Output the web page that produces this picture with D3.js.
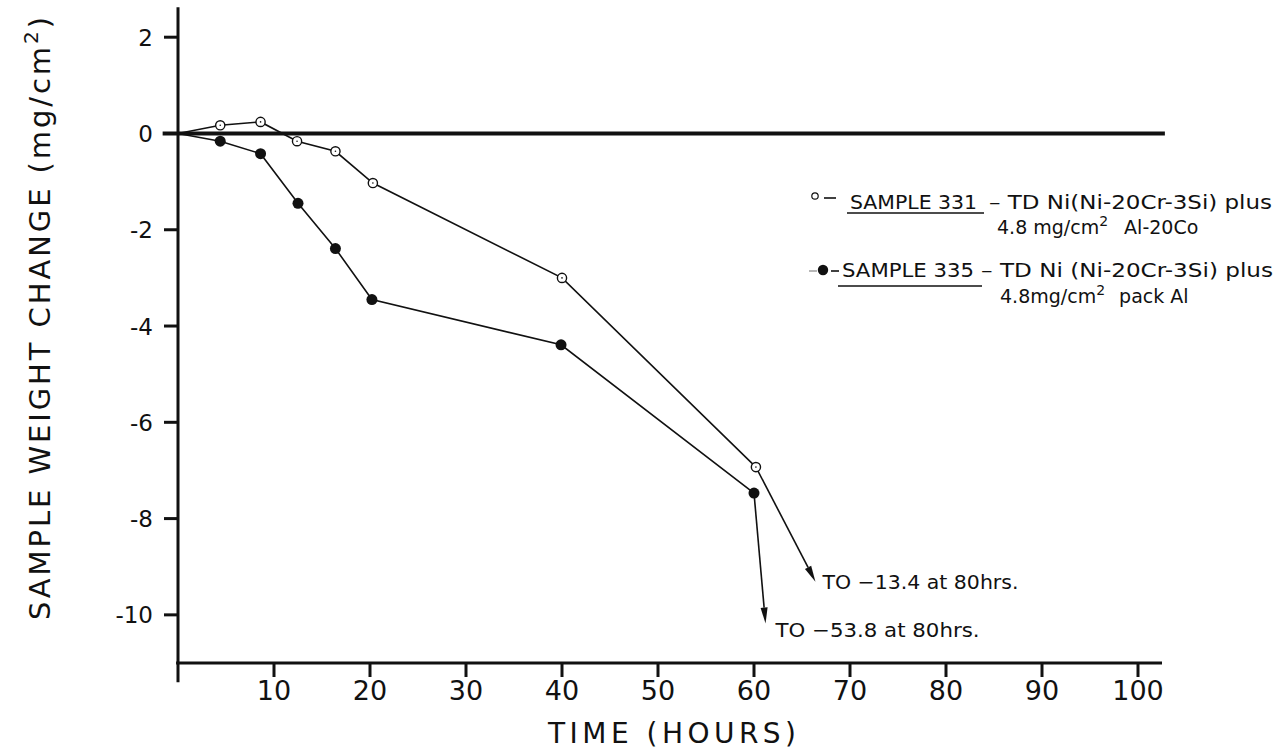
<!DOCTYPE html>
<html>
<head>
<meta charset="utf-8">
<script src="https://cdn.jsdelivr.net/npm/d3@7"></script>
<style>
  html, body { margin: 0; padding: 0; background: #fff; }
  svg { display: block; }
  text { font-family: "DejaVu Sans", "Liberation Sans", sans-serif; fill: #111; }
</style>
</head>
<body>
<svg id="chart" width="1278" height="752"></svg>
<script>
// ---- data ----
const hours331  = [0, 4.4, 8.6, 12.4, 16.4, 20.3, 40.0, 60.2];
const weight331 = [0, 0.17, 0.24, -0.16, -0.37, -1.03, -3.00, -6.93];
const hours335  = [0, 4.4, 8.6, 12.5, 16.4, 20.2, 39.9, 60.0];
const weight335 = [0, -0.16, -0.42, -1.45, -2.39, -3.45, -4.39, -7.47];
// arrows continuing off the chart (hours, weight change at arrow tip)
const arrowTip331 = [66.4, -9.31];
const arrowTip335 = [61.2, -10.18];
const arrowLabels = ["TO \u221213.4 at 80hrs.", "TO \u221253.8 at 80hrs."];
const xTicks = [10, 20, 30, 40, 50, 60, 70, 80, 90, 100];
const yTicks = [-10, -8, -6, -4, -2, 0, 2];

const svg = d3.select("#chart");
const x = d3.scaleLinear().domain([0, 100]).range([178, 1138]);
const y = d3.scaleLinear().domain([-11, 2]).range([663, 37.2]);
const ink = "#111";

// ---- axes ----
svg.append("line").attr("x1", x(0)).attr("x2", x(0))
  .attr("y1", y(2.62)).attr("y2", y(-11.4))
  .attr("stroke", ink).attr("stroke-width", 3);
svg.append("line").attr("x1", x(-0.2)).attr("x2", x(102.5))
  .attr("y1", y(-11)).attr("y2", y(-11))
  .attr("stroke", ink).attr("stroke-width", 3);
// heavy zero line
svg.append("line").attr("x1", x(-1.6)).attr("x2", x(102.8))
  .attr("y1", y(0)).attr("y2", y(0))
  .attr("stroke", ink).attr("stroke-width", 4);

// y ticks
const yg = svg.append("g");
yTicks.forEach(v => {
  yg.append("line").attr("x1", x(0) - 14).attr("x2", x(0))
    .attr("y1", y(v)).attr("y2", y(v)).attr("stroke", ink).attr("stroke-width", 3);
  yg.append("text").attr("x", x(0) - 25).attr("y", y(v) + 8.5)
    .attr("text-anchor", "end").attr("font-size", 23).text(String(v));
});
// x ticks
const xg = svg.append("g");
xTicks.forEach(v => {
  xg.append("line").attr("x1", x(v)).attr("x2", x(v))
    .attr("y1", y(-11)).attr("y2", y(-11) + 14).attr("stroke", ink).attr("stroke-width", 3);
  xg.append("text").attr("x", x(v)).attr("y", 700)
    .attr("text-anchor", "middle").attr("font-size", 27).text(String(v));
});

// axis titles
svg.append("text").attr("x", 548).attr("y", 743)
  .attr("font-size", 28).attr("textLength", 248).attr("lengthAdjust", "spacing")
  .text("TIME (HOURS)");
const yt = svg.append("text").attr("transform", "translate(50,620) rotate(-90)")
  .attr("font-size", 29).attr("textLength", 603).attr("lengthAdjust", "spacing");
yt.append("tspan").text("SAMPLE WEIGHT CHANGE (mg/cm");
yt.append("tspan").attr("baseline-shift", "super").attr("font-size", 20).text("2");
yt.append("tspan").text(")");

// ---- series lines ----
const d331 = hours331.map((h, i) => [h, weight331[i]]);
const d335 = hours335.map((h, i) => [h, weight335[i]]);
const line = d3.line().x(d => x(d[0])).y(d => y(d[1]));
[d331, d335].forEach(d => {
  svg.append("path").attr("d", line(d)).attr("fill", "none")
    .attr("stroke", ink).attr("stroke-width", 1.6);
});

// arrows
function arrow(from, to) {
  const x0 = x(from[0]), y0 = y(from[1]), x1 = x(to[0]), y1 = y(to[1]);
  const dx = x1 - x0, dy = y1 - y0, L = Math.hypot(dx, dy);
  const ux = dx / L, uy = dy / L, hl = 16, hw = 3.5;
  const bx = x1 - ux * hl, by = y1 - uy * hl;
  svg.append("line").attr("x1", x0).attr("y1", y0).attr("x2", bx).attr("y2", by)
    .attr("stroke", ink).attr("stroke-width", 1.6);
  svg.append("path")
    .attr("d", `M${x1},${y1}L${bx - uy * hw},${by + ux * hw}L${bx + uy * hw},${by - ux * hw}Z`)
    .attr("fill", ink);
}
arrow(d331[d331.length - 1], arrowTip331);
arrow(d335[d335.length - 1], arrowTip335);

svg.append("text").attr("x", x(arrowTip331[0]) + 7).attr("y", y(arrowTip331[1]) + 7)
  .attr("font-size", 20).attr("textLength", 196).attr("lengthAdjust", "spacingAndGlyphs")
  .text(arrowLabels[0]);
svg.append("text").attr("x", x(arrowTip335[0]) + 10).attr("y", y(arrowTip335[1]) + 13)
  .attr("font-size", 20).attr("textLength", 204).attr("lengthAdjust", "spacingAndGlyphs")
  .text(arrowLabels[1]);

// ---- markers ----
svg.selectAll("circle.s335").data(d335.slice(1)).join("circle")
  .attr("class", "s335").attr("cx", d => x(d[0])).attr("cy", d => y(d[1]))
  .attr("r", 5.5).attr("fill", ink);
svg.selectAll("circle.s331").data(d331.slice(1)).join("circle")
  .attr("class", "s331").attr("cx", d => x(d[0])).attr("cy", d => y(d[1]))
  .attr("r", 4.6).attr("fill", "#fff").attr("stroke", ink).attr("stroke-width", 1.4);
svg.selectAll("circle.s331c").data(d331.slice(1)).join("circle")
  .attr("class", "s331c").attr("cx", d => x(d[0])).attr("cy", d => y(d[1]))
  .attr("r", 0.8).attr("fill", ink);

// ---- legend ----
const lg = svg.append("g").attr("font-size", 19);
function fitText(xp, yp, len, str) {
  return lg.append("text").attr("x", xp).attr("y", yp)
    .attr("textLength", len).attr("lengthAdjust", "spacingAndGlyphs").text(str);
}
// entry 1
lg.append("circle").attr("cx", 815).attr("cy", 196).attr("r", 3.2)
  .attr("fill", "#fff").attr("stroke", ink).attr("stroke-width", 1.2);
lg.append("line").attr("x1", 824).attr("x2", 836).attr("y1", 198).attr("y2", 198)
  .attr("stroke", ink).attr("stroke-width", 1.6);
fitText(850, 209, 127, "SAMPLE 331");
lg.append("line").attr("x1", 847).attr("x2", 984).attr("y1", 213).attr("y2", 213)
  .attr("stroke", ink).attr("stroke-width", 1.6);
fitText(989, 209, 283, "\u2013 TD Ni(Ni-20Cr-3Si) plus");
const l2 = lg.append("text").attr("x", 997).attr("y", 234);
l2.append("tspan").text("4.8 mg/cm");
l2.append("tspan").attr("baseline-shift", "super").attr("font-size", 14).text("2");
l2.append("tspan").attr("dx", 16).text("Al-20Co");
// entry 2
lg.append("line").attr("x1", 809).attr("x2", 817).attr("y1", 271).attr("y2", 271)
  .attr("stroke", "#888").attr("stroke-width", 1.2);
lg.append("circle").attr("cx", 823).attr("cy", 270).attr("r", 5.2).attr("fill", ink);
lg.append("line").attr("x1", 831).attr("x2", 839).attr("y1", 271).attr("y2", 271)
  .attr("stroke", ink).attr("stroke-width", 1.6);
fitText(842, 277, 132, "SAMPLE 335");
lg.append("line").attr("x1", 838).attr("x2", 982).attr("y1", 286).attr("y2", 286)
  .attr("stroke", ink).attr("stroke-width", 1.6);
fitText(981, 277, 292, "\u2013 TD Ni (Ni-20Cr-3Si) plus");
const l4 = lg.append("text").attr("x", 1000).attr("y", 303);
l4.append("tspan").text("4.8mg/cm");
l4.append("tspan").attr("baseline-shift", "super").attr("font-size", 14).text("2");
l4.append("tspan").attr("dx", 14).text("pack Al");
</script>
</body>
</html>
